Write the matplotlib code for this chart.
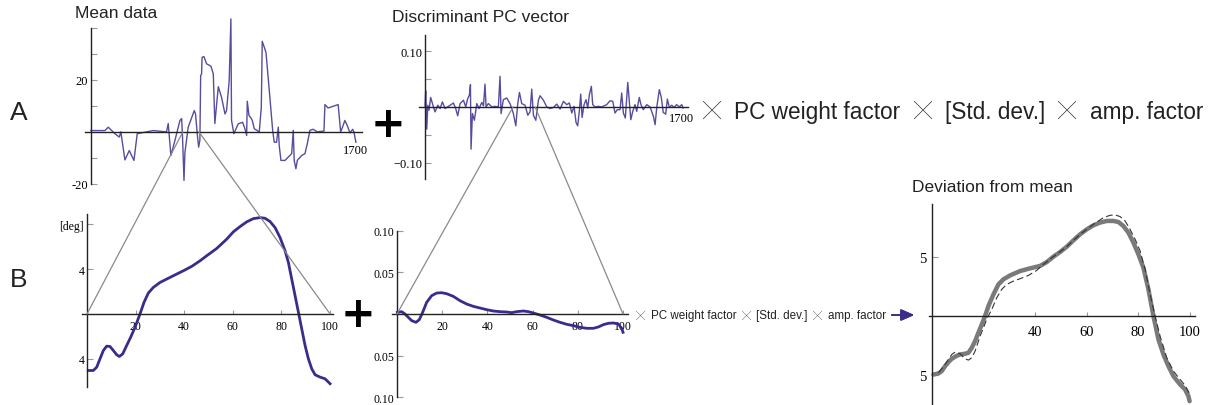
import matplotlib
matplotlib.use('Agg')
import matplotlib.pyplot as plt
from matplotlib.patches import ConnectionPatch

W, H = 1210, 406

# ---- data ----
# A: mean data (x = sample index 0..1700)
mean_x = [0, 90, 111, 154, 182, 192, 218, 246, 276, 297, 400, 485, 496, 513, 539, 571, 582, 588,
          597, 603, 624, 663, 671, 682, 691, 699, 704, 710, 713, 725, 742, 770, 785, 795, 817, 838,
          860, 870, 887, 898, 902, 917, 945, 973, 988, 999, 1003, 1014, 1025, 1035, 1048, 1080, 1093,
          1099, 1112, 1123, 1148, 1166, 1176, 1191, 1202, 1208, 1219, 1245, 1266, 1288, 1298, 1304,
          1315, 1324, 1352, 1373, 1388, 1405, 1426, 1452, 1495, 1501, 1522, 1586, 1602, 1614, 1629,
          1644, 1662, 1679, 1687, 1700]
mean_y = [0.5, 0.5, 1.8, -0.7, -2, 0, -10.8, -7.2, -11, -0.7, 0.5, 0, 3.2, -9.1, -3.3, 4.4, 5.1, -2.5,
          -18.7, -8, 1.8, 8.2, 6.9, -0.7, -5.9, -3.2, 21.7, 22.3, 28.7, 29, 26.2, 25.3, 22.3, 3.2, 17.4,
          13.3, 6.9, 8.2, 19.7, 43.5, 4.4, -0.7, 3.1, 3.7, 1.2, -1.4, 11.8, 6.3, 5.5, 4.4, 1.2, 0, 9.5,
          34.9, 32.6, 30.6, 13.3, 0.5, -4, -4, 1.8, -5.3, -11, -11, -9.7, -8.4, 0.6, -11, -14.2, -11,
          -9.1, -8.4, -4.6, 0.6, 1.0, 0, 0.3, 10.5, 9.2, 10.5, 0, 1.8, 4.4, 2.5, -0.4, 1.0, 0, -4]

# A: discriminant PC vector
pc_x = [0, 4, 11, 18, 26, 37, 55, 66, 84, 99, 114, 132, 154, 187, 202, 215, 231, 253, 268, 281, 292,
        299, 303, 312, 325, 341, 356, 374, 385, 395, 402, 417, 440, 461, 483, 494, 501, 516, 538, 560,
        582, 598, 611, 622, 637, 659, 677, 692, 703, 714, 730, 747, 758, 780, 802, 824, 846, 868, 890,
        912, 934, 951, 967, 982, 995, 1006, 1017, 1026, 1035, 1048, 1061, 1072, 1083, 1096, 1105,
        1120, 1142, 1164, 1197, 1219, 1237, 1252, 1267, 1285, 1296, 1307, 1320, 1336, 1344, 1356,
        1369, 1384, 1395, 1412, 1423, 1438, 1461, 1483, 1505, 1516, 1527, 1544, 1557, 1570, 1586,
        1597, 1610, 1626, 1641, 1658, 1676, 1692, 1700]
pc_y = [0, 0.029, -0.040, 0.003, -0.006, 0.017, 0, -0.009, 0.003, -0.003, 0.009, -0.003, 0.001,
        0.007, -0.003, -0.016, 0.006, 0.012, 0, 0.015, 0.021, 0.040, -0.076, -0.012, -0.024, 0.006,
        -0.003, 0.008, 0.002, 0.041, 0, 0.006, 0, 0.001, 0, 0.055, -0.012, 0.013, 0.016, 0.006,
        -0.012, -0.034, 0.006, 0.026, 0.006, 0.003, -0.015, -0.009, 0.032, -0.015, -0.024, 0.012,
        0.020, 0.012, 0, -0.003, -0.001, 0.005, -0.004, 0.010, 0.004, 0.007, -0.011, 0.001, -0.028,
        -0.034, -0.007, 0.023, -0.019, 0.004, 0.013, -0.002, 0.022, 0.037, 0.004, 0, 0.001, 0,
        0.004, 0.011, 0.010, -0.011, -0.005, -0.005, 0.025, -0.011, -0.020, 0.044, 0.017, -0.023,
        -0.008, 0.004, -0.008, 0.017, 0.004, -0.005, 0.004, 0, -0.017, -0.032, -0.001, 0.031,
        0.017, -0.010, -0.013, 0.014, -0.001, 0.003, -0.001, 0.004, 0, 0.004, -0.002]

# B: zoomed mean curve [deg], x = % of cycle
bmean_x = [0.5, 2.6, 4.0, 5.35, 6.72, 8.09, 9.47, 10.84, 12.21, 13.3, 14.68, 16.32, 17.97, 19.75,
           21.8, 23.46, 25.24, 27.3, 30.04, 32.78, 35.53, 39.64, 43.07, 46.5, 49.25, 53.36, 57.48,
           60.2, 62.96, 65.7, 68.45, 71.2, 73.25, 75.3, 77.37, 79.42, 81.48, 82.85, 84.22, 85.6,
           86.97, 88.34, 89.71, 91.08, 92.46, 93.83, 95.88, 97.94, 100]
bmean_y = [-5.04, -5.04, -4.74, -4.0, -3.26, -2.87, -2.90, -3.26, -3.64, -3.79, -3.56, -2.81, -2.07,
           -1.19, 0, 1.04, 1.87, 2.37, 2.81, 3.11, 3.41, 3.85, 4.24, 4.74, 5.19, 5.84, 6.67, 7.32,
           7.79, 8.21, 8.5, 8.59, 8.53, 8.24, 7.70, 6.81, 5.63, 4.59, 3.11, 1.63, 0.15, -1.33, -2.81,
           -4.0, -4.89, -5.42, -5.63, -5.78, -6.22]

# B: zoomed PC vector
bpc_x = [0.15, 2.07, 3.54, 5.01, 6.49, 8.41, 9.88, 11.36, 13.13, 15.34, 17.55, 19.77, 21.98, 24.93,
         27.88, 30.83, 33.78, 36.73, 39.68, 42.63, 45.58, 48.53, 50.74, 52.95, 55.9, 58.11, 60.32,
         63.27, 66.22, 69.17, 72.12, 75.07, 78.02, 80.97, 83.92, 86.87, 89.08, 91.3, 93.5, 95.72,
         97.94, 99.4, 100]
bpc_y = [0.002, 0.0028, 0, -0.004, -0.008, -0.010, -0.0068, 0.002, 0.014, 0.022, 0.0252, 0.0256,
         0.0244, 0.0212, 0.016, 0.012, 0.0092, 0.0072, 0.0052, 0.0036, 0.0028, 0.0024, 0.0016,
         0.0028, 0.0036, 0.0028, 0.0012, -0.0012, -0.004, -0.0072, -0.010, -0.0124, -0.014, -0.016,
         -0.0172, -0.0172, -0.0156, -0.0128, -0.0112, -0.0108, -0.012, -0.0172, -0.022]

# deviation from mean: reconstructed (solid) and original (dashed)
dev_x = [0.52, 2.46, 3.75, 5.05, 6.34, 7.64, 9.32, 10.87, 12.82, 14.11, 15.4, 16.7, 17.99, 19.29,
         20.58, 21.88, 23.82, 25.76, 27.7, 30.29, 34.17, 38.06, 41.94, 44.53, 47.12, 49.71, 52.3,
         54.89, 57.48, 60.07, 62.65, 65.24, 67.83, 70.42, 72.36, 74.3, 76.25, 78.19, 80.13, 82.07,
         84.01, 85.95, 87.9, 89.84, 91.78, 93.72, 96.31, 98.25, 99.55, 100]
dev_y = [-4.92, -4.83, -4.63, -4.21, -3.87, -3.59, -3.36, -3.22, -3.16, -3.08, -2.66, -2.09, -1.38,
         -0.68, 0.03, 0.88, 1.86, 2.71, 3.14, 3.47, 3.84, 4.07, 4.27, 4.6, 5.06, 5.45, 5.9, 6.44,
         6.95, 7.37, 7.71, 7.94, 8.08, 8.08, 7.99, 7.65, 7.09, 6.24, 5.25, 4.12, 2.29, 0.03, -1.95,
         -3.22, -4.21, -5.06, -5.76, -6.19, -6.75, -7.18]
dash_x = [2.46, 5.05, 7.64, 8.93, 10.87, 12.82, 14.11, 15.4, 16.7, 18.64, 20.19, 21.49, 23.17, 25.11,
          27.05, 28.99, 31.58, 34.17, 37.41, 40.65, 43.24, 47.12, 52.3, 57.48, 62.65, 66.54, 69.13,
          71.07, 73.01, 74.95, 76.89, 78.84, 80.78, 82.72, 84.66, 86.6, 88.54, 91.13, 93.72, 96.31,
          98.25, 100]
dash_y = [-4.77, -4.07, -3.22, -3.02, -3.16, -3.59, -3.7, -3.5, -2.94, -1.67, -0.82, -0.11, 0.59,
          1.58, 2.29, 2.71, 2.99, 3.19, 3.47, 3.9, 4.41, 5.06, 5.9, 6.95, 7.8, 8.36, 8.56, 8.59,
          8.45, 8.08, 7.37, 6.53, 5.54, 3.98, 1.86, 0.03, -1.67, -3.5, -4.63, -5.34, -5.85, -6.53]

# formula text pieces
formula = ['\u2573', 'PC weight factor', '\u2573', '[Std. dev.]', '\u2573', 'amp. factor']

PURPLE_A = '#5b4b9e'
PURPLE_B = '#3d2b8c'
SERIF = 'Liberation Serif'
SANS = 'Liberation Sans'

fig = plt.figure(figsize=(W / 100, H / 100), dpi=100, facecolor='white')


def px_axes(x0, y0, x1, y1):
    # axes box given in pixel coords (top-left origin)
    return fig.add_axes([x0 / W, 1 - y1 / H, (x1 - x0) / W, (y1 - y0) / H])


def style(ax, ybounds, ticks, labels, xticks=None, xlabels=None, size=9, ypad=2, xpad=4):
    for s in ['top', 'right']:
        ax.spines[s].set_visible(False)
    ax.spines['left'].set_position(('data', 0))
    ax.spines['bottom'].set_position(('data', 0))
    ax.spines['left'].set_bounds(*ybounds)
    for s in ['left', 'bottom']:
        ax.spines[s].set_color('#222222')
        ax.spines[s].set_linewidth(1.0)
    ax.set_yticks(ticks)
    ax.set_yticklabels(labels, fontfamily=SERIF, fontsize=size)
    ax.tick_params(axis='y', direction='in', length=4, color='#999999', pad=ypad)
    if xticks is None:
        ax.set_xticks([])
    else:
        ax.set_xticks(xticks)
        ax.set_xticklabels(xlabels, fontfamily=SERIF, fontsize=size)
        ax.tick_params(axis='x', direction='in', length=3, color='#999999', pad=xpad)
    ax.patch.set_visible(False)


# ---- A: mean data ----
axA1 = px_axes(85, 16, 362, 190)
axA1.plot(mean_x, mean_y, color=PURPLE_A, lw=1.0)
axA1.set_xlim(-38, 1739)
axA1.set_ylim(-22, 45)
style(axA1, (-20, 40), [-20, -10, 10, 20, 30, 40], ['-20', '', '', '20', '', ''], size=9)
axA1.text(1700, -4.5, '1700', ha='center', va='top', fontfamily=SERIF, fontsize=9)

# ---- A: discriminant PC vector ----
axA2 = px_axes(419, 30, 688, 183)
axA2.plot(pc_x, pc_y, color=PURPLE_A, lw=1.0)
axA2.set_xlim(-40, 1733)
axA2.set_ylim(-0.135, 0.14)
style(axA2, (-0.13, 0.13), [-0.10, -0.05, 0.05, 0.10], ['\u22120.10', '', '', '0.10'], size=9)
axA2.text(1690, -0.01, '1700', ha='center', va='top', fontfamily=SERIF, fontsize=9)

# ---- B: zoomed mean ----
axB1 = px_axes(82, 214, 333, 389)
axB1.plot(bmean_x, bmean_y, color=PURPLE_B, lw=2, solid_joinstyle='round')
axB1.set_xlim(-2.06, 101.2)
axB1.set_ylim(-6.6, 9.0)
style(axB1, (-6.5, 8.9), [-4, 4, 8], ['4', '4', '[deg]'],
      xticks=[20, 40, 60, 80, 100], xlabels=['20', '40', '60', '80', '100'], size=8.5)

# ---- B: zoomed PC vector ----
axB2 = px_axes(392, 231, 628, 399)
axB2.plot(bpc_x, bpc_y, color=PURPLE_B, lw=2, solid_joinstyle='round')
axB2.set_xlim(-2.2, 102.2)
axB2.set_ylim(-0.101, 0.101)
style(axB2, (-0.1, 0.1), [-0.10, -0.05, 0.05, 0.10], ['0.10', '0.05', '0.05', '0.10'],
      xticks=[20, 40, 60, 80, 100], xlabels=['20', '40', '60', '80', '100'], size=8.5)

# ---- C: deviation from mean ----
axC = px_axes(929, 204, 1195, 406)
axC.plot(dev_x, dev_y, color='#7a7a7a', lw=3.2, solid_capstyle='round', solid_joinstyle='round')
axC.plot(dash_x, dash_y, color='#333333', lw=0.8, dashes=(6, 3))
axC.set_xlim(-1.2, 102.1)
axC.set_ylim(-7.5, 9.6)
style(axC, (-7.5, 9.5), [-5, 5], ['5', '5'],
      xticks=[40, 60, 80, 100], xlabels=['40', '60', '80', '100'], size=10.5, ypad=4, xpad=6)

# ---- zoom triangles ----
for (xa, xb) in [(590, 0), (693, 100)]:
    con = ConnectionPatch(xyA=(xa, 0), coordsA=axA1.transData, xyB=(xb, 0), coordsB=axB1.transData,
                          color='#8a8a8a', lw=0.9)
    fig.add_artist(con)
for (xa, xb) in [(580, 0), (725, 100)]:
    con = ConnectionPatch(xyA=(xa, 0), coordsA=axA2.transData, xyB=(xb, 0), coordsB=axB2.transData,
                          color='#8a8a8a', lw=0.9)
    fig.add_artist(con)


# ---- titles / labels ----
def ftext(px, py, s, **kw):
    return fig.text(px / W, 1 - py / H, s, **kw)


ftext(75, 14, 'Mean data', fontfamily=SANS, fontsize=12.5, color='#222222', va='center')
ftext(392, 17, 'Discriminant PC vector', fontfamily=SANS, fontsize=12.5, color='#222222', va='center')
ftext(912, 188, 'Deviation from mean', fontfamily=SANS, fontsize=12.5, color='#222222', va='center')
ftext(10, 113, 'A', fontfamily=SANS, fontsize=19, color='#222222', va='center')
ftext(10, 280, 'B', fontfamily=SANS, fontsize=19, color='#222222', va='center')
ftext(388, 125, '+', fontfamily='DejaVu Sans', fontsize=30, fontweight='bold', ha='center', va='center')
ftext(358, 315, '+', fontfamily='DejaVu Sans', fontsize=30, fontweight='bold', ha='center', va='center')


def formula_row(x0, x1, py, word_size, cross_size):
    # lay the pieces out left to right, spreading the gaps so the row spans x0..x1 px
    renderer = fig.canvas.get_renderer()
    texts = []
    for s in formula:
        if s == '\u2573':
            t = ftext(x0, py, s, fontfamily=['Noto Sans CJK JP', 'DejaVu Sans'], fontsize=cross_size,
                      color='#333333', va='center', ha='left')
        else:
            t = ftext(x0, py, s, fontfamily=SANS, fontsize=word_size, color='#222222',
                      va='center', ha='left')
        texts.append(t)
    widths = [t.get_window_extent(renderer).width for t in texts]
    gap = ((x1 - x0) - sum(widths)) / (len(texts) - 1)
    x = x0
    for t, w in zip(texts, widths):
        t.set_x(x / W)
        x += w + gap


formula_row(703, 1203, 112, 16.3, 13)
formula_row(636, 886, 316, 8.4, 6.6)

fig.add_artist(plt.annotate('', xy=(917 / W, 1 - 316 / H), xytext=(889 / W, 1 - 316 / H),
                            xycoords='figure fraction', textcoords='figure fraction',
                            arrowprops=dict(arrowstyle='-|>,head_length=0.8,head_width=0.35',
                                            color=PURPLE_B, lw=1.2)))

plt.savefig('out.png', dpi=100, facecolor='white')
plt.close()
